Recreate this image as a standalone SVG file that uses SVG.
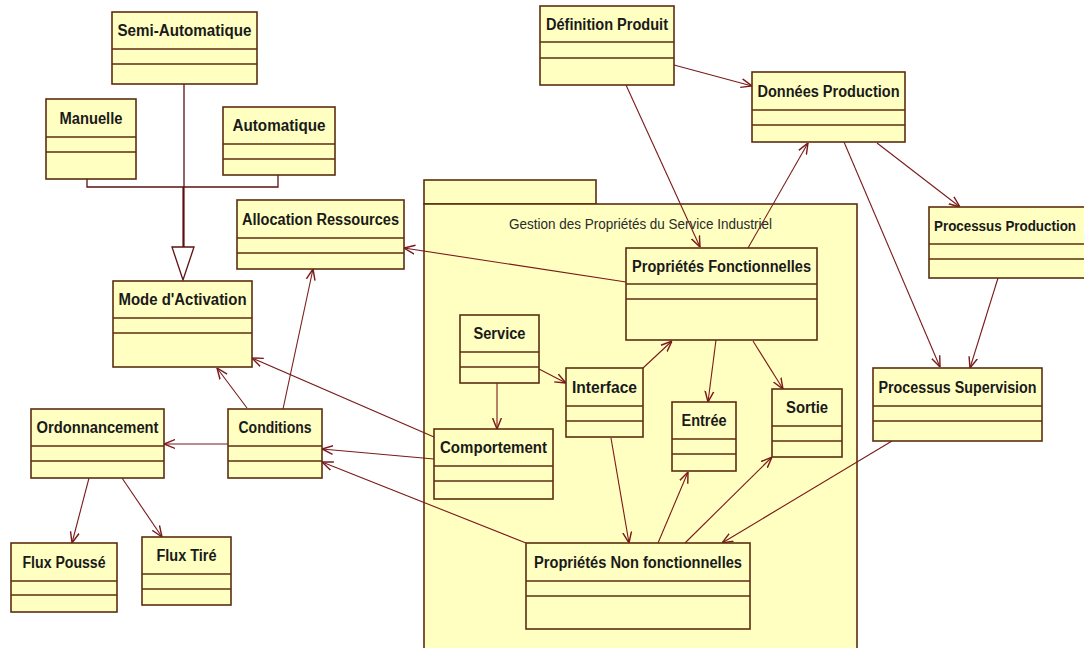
<svg xmlns="http://www.w3.org/2000/svg" width="1084" height="648" viewBox="0 0 1084 648">
<style>
.box{fill:#FFFFC2;stroke:#5C2E10;stroke-width:1.6}
.div{stroke:#5C2E10;stroke-width:1.6}
.t{font-family:"Liberation Sans",Arial,sans-serif;font-weight:bold;font-size:16px;fill:#1a1a1a;text-anchor:middle}
.pk{font-family:"Liberation Sans",Arial,sans-serif;font-size:15px;fill:#2a2a2a;text-anchor:middle}
.c{fill:none;stroke:#7A1A1A;stroke-width:1.1}
.a{marker-end:url(#arr)}
.g{fill:none;stroke:#5C1010;stroke-width:1.3}
</style>
<defs>
<marker id="arr" viewBox="0 0 10 10" refX="10" refY="5" markerWidth="11" markerHeight="11" markerUnits="userSpaceOnUse" orient="auto">
<path d="M0,1 L10,5 L0,9" fill="none" stroke="#7A1A1A" stroke-width="1.3"/>
</marker>
</defs>
<rect width="1084" height="648" fill="#FFFFFF"/>

<g id="package">
<rect class="box" x="424" y="180" width="172" height="24"/>
<rect class="box" x="424" y="204" width="433" height="460"/>
<text class="pk" x="640.5" y="229" textLength="263" lengthAdjust="spacingAndGlyphs">Gestion des Propriétés du Service Industriel</text>
</g>

<g id="connectors">
<line class="g" x1="184" y1="84" x2="184" y2="187"/>
<polyline class="g" points="87,179 87,187 278,187 278,175"/>
<line x1="183.5" y1="187" x2="183.5" y2="247" stroke="#5C1010" stroke-width="2.2"/>
<polygon points="172,247 194,247 183,280" fill="#FFFFFF" stroke="#5C1010" stroke-width="1.3"/>
<line class="c a" x1="674" y1="65" x2="752" y2="86"/>
<line class="c a" x1="626" y1="85" x2="700" y2="247"/>
<line class="c a" x1="748" y1="248" x2="808" y2="143"/>
<line class="c a" x1="844" y1="142" x2="940" y2="367"/>
<line class="c a" x1="877" y1="143" x2="960" y2="207"/>
<line class="c a" x1="998" y1="278" x2="970" y2="368"/>
<line class="c a" x1="892" y1="441" x2="722" y2="543"/>
<line class="c a" x1="685" y1="543" x2="772" y2="457"/>
<line class="c a" x1="658" y1="543" x2="688" y2="472"/>
<line class="c a" x1="611" y1="438" x2="629" y2="543"/>
<line class="c a" x1="539" y1="369" x2="566" y2="383"/>
<line class="c a" x1="643" y1="368" x2="672" y2="341"/>
<line class="c a" x1="497" y1="383" x2="497" y2="429"/>
<line class="c a" x1="716" y1="340" x2="708" y2="402"/>
<line class="c a" x1="753" y1="341" x2="783" y2="389"/>
<line class="c a" x1="626" y1="282" x2="404" y2="248"/>
<line class="c a" x1="434" y1="437" x2="252" y2="358"/>
<line class="c a" x1="434" y1="459" x2="322" y2="449"/>
<line class="c a" x1="526" y1="543" x2="322" y2="462"/>
<line class="c a" x1="247" y1="408" x2="217" y2="368"/>
<line class="c a" x1="283" y1="409" x2="313" y2="269"/>
<line class="c a" x1="228" y1="444" x2="164" y2="444"/>
<line class="c a" x1="89" y1="478" x2="72" y2="543"/>
<line class="c a" x1="122" y1="478" x2="162" y2="537"/>
</g>

<g id="semi-automatique">
<rect class="box" x="112" y="12" width="145" height="72"/>
<line class="div" x1="112" y1="49" x2="257" y2="49"/><line class="div" x1="112" y1="64" x2="257" y2="64"/>
<text class="t" x="184.5" y="36" textLength="134" lengthAdjust="spacingAndGlyphs">Semi-Automatique</text>
</g>
<g id="manuelle">
<rect class="box" x="46" y="99" width="90" height="80"/>
<line class="div" x1="46" y1="137" x2="136" y2="137"/><line class="div" x1="46" y1="152" x2="136" y2="152"/>
<text class="t" x="91" y="124" textLength="63" lengthAdjust="spacingAndGlyphs">Manuelle</text>
</g>
<g id="automatique">
<rect class="box" x="223" y="107" width="112" height="68"/>
<line class="div" x1="223" y1="144" x2="335" y2="144"/><line class="div" x1="223" y1="159" x2="335" y2="159"/>
<text class="t" x="279" y="131" textLength="93" lengthAdjust="spacingAndGlyphs">Automatique</text>
</g>
<g id="definition-produit">
<rect class="box" x="540" y="6" width="134" height="79"/>
<line class="div" x1="540" y1="42" x2="674" y2="42"/><line class="div" x1="540" y1="58" x2="674" y2="58"/>
<text class="t" x="607" y="30" textLength="122" lengthAdjust="spacingAndGlyphs">Définition Produit</text>
</g>
<g id="donnees-production">
<rect class="box" x="752" y="72" width="153" height="70"/>
<line class="div" x1="752" y1="110" x2="905" y2="110"/><line class="div" x1="752" y1="125" x2="905" y2="125"/>
<text class="t" x="828.5" y="97" textLength="142" lengthAdjust="spacingAndGlyphs">Données Production</text>
</g>
<g id="allocation-ressources">
<rect class="box" x="237" y="200" width="167" height="69"/>
<line class="div" x1="237" y1="238" x2="404" y2="238"/><line class="div" x1="237" y1="253" x2="404" y2="253"/>
<text class="t" x="320.5" y="225" textLength="157" lengthAdjust="spacingAndGlyphs">Allocation Ressources</text>
</g>
<g id="mode-activation">
<rect class="box" x="113" y="281" width="139" height="86"/>
<line class="div" x1="113" y1="318" x2="252" y2="318"/><line class="div" x1="113" y1="333" x2="252" y2="333"/>
<text class="t" x="182.5" y="305" textLength="128" lengthAdjust="spacingAndGlyphs">Mode d'Activation</text>
</g>
<g id="processus-production">
<rect class="box" x="929" y="207" width="170" height="71"/>
<line class="div" x1="929" y1="244" x2="1099" y2="244"/><line class="div" x1="929" y1="259" x2="1099" y2="259"/>
<text class="t" x="934" y="231" style="text-anchor:start;font-size:14px" textLength="142" lengthAdjust="spacingAndGlyphs">Processus Production</text>
</g>
<g id="processus-supervision">
<rect class="box" x="873" y="368" width="169" height="73"/>
<line class="div" x1="873" y1="406" x2="1042" y2="406"/><line class="div" x1="873" y1="421" x2="1042" y2="421"/>
<text class="t" x="957.5" y="393" textLength="158" lengthAdjust="spacingAndGlyphs">Processus Supervision</text>
</g>
<g id="proprietes-fonctionnelles">
<rect class="box" x="626" y="248" width="191" height="92"/>
<line class="div" x1="626" y1="284" x2="817" y2="284"/><line class="div" x1="626" y1="299" x2="817" y2="299"/>
<text class="t" x="721.5" y="272" textLength="179" lengthAdjust="spacingAndGlyphs">Propriétés Fonctionnelles</text>
</g>
<g id="service">
<rect class="box" x="460" y="315" width="79" height="68"/>
<line class="div" x1="460" y1="352" x2="539" y2="352"/><line class="div" x1="460" y1="367" x2="539" y2="367"/>
<text class="t" x="499.5" y="339" textLength="52" lengthAdjust="spacingAndGlyphs">Service</text>
</g>
<g id="interface">
<rect class="box" x="566" y="368" width="77" height="69"/>
<line class="div" x1="566" y1="406" x2="643" y2="406"/><line class="div" x1="566" y1="421" x2="643" y2="421"/>
<text class="t" x="604.5" y="393" textLength="65" lengthAdjust="spacingAndGlyphs">Interface</text>
</g>
<g id="entree">
<rect class="box" x="672" y="402" width="64" height="69"/>
<line class="div" x1="672" y1="439" x2="736" y2="439"/><line class="div" x1="672" y1="454" x2="736" y2="454"/>
<text class="t" x="704" y="426" textLength="45" lengthAdjust="spacingAndGlyphs">Entrée</text>
</g>
<g id="sortie">
<rect class="box" x="772" y="389" width="70" height="68"/>
<line class="div" x1="772" y1="426" x2="842" y2="426"/><line class="div" x1="772" y1="441" x2="842" y2="441"/>
<text class="t" x="807" y="413" textLength="42" lengthAdjust="spacingAndGlyphs">Sortie</text>
</g>
<g id="comportement">
<rect class="box" x="434" y="429" width="119" height="70"/>
<line class="div" x1="434" y1="466" x2="553" y2="466"/><line class="div" x1="434" y1="481" x2="553" y2="481"/>
<text class="t" x="493.5" y="453" textLength="107" lengthAdjust="spacingAndGlyphs">Comportement</text>
</g>
<g id="proprietes-non-fonctionnelles">
<rect class="box" x="526" y="543" width="224" height="86"/>
<line class="div" x1="526" y1="581" x2="750" y2="581"/><line class="div" x1="526" y1="596" x2="750" y2="596"/>
<text class="t" x="638" y="568" textLength="208" lengthAdjust="spacingAndGlyphs">Propriétés Non fonctionnelles</text>
</g>
<g id="ordonnancement">
<rect class="box" x="31" y="409" width="133" height="69"/>
<line class="div" x1="31" y1="446" x2="164" y2="446"/><line class="div" x1="31" y1="461" x2="164" y2="461"/>
<text class="t" x="97.5" y="433" textLength="122" lengthAdjust="spacingAndGlyphs">Ordonnancement</text>
</g>
<g id="conditions">
<rect class="box" x="228" y="409" width="94" height="69"/>
<line class="div" x1="228" y1="446" x2="322" y2="446"/><line class="div" x1="228" y1="461" x2="322" y2="461"/>
<text class="t" x="275" y="433" textLength="73" lengthAdjust="spacingAndGlyphs">Conditions</text>
</g>
<g id="flux-pousse">
<rect class="box" x="11" y="543" width="106" height="69"/>
<line class="div" x1="11" y1="581" x2="117" y2="581"/><line class="div" x1="11" y1="595" x2="117" y2="595"/>
<text class="t" x="64" y="568" textLength="83" lengthAdjust="spacingAndGlyphs">Flux Poussé</text>
</g>
<g id="flux-tire">
<rect class="box" x="142" y="537" width="89" height="68"/>
<line class="div" x1="142" y1="574" x2="231" y2="574"/><line class="div" x1="142" y1="589" x2="231" y2="589"/>
<text class="t" x="186.5" y="561" textLength="60" lengthAdjust="spacingAndGlyphs">Flux Tiré</text>
</g>
</svg>
